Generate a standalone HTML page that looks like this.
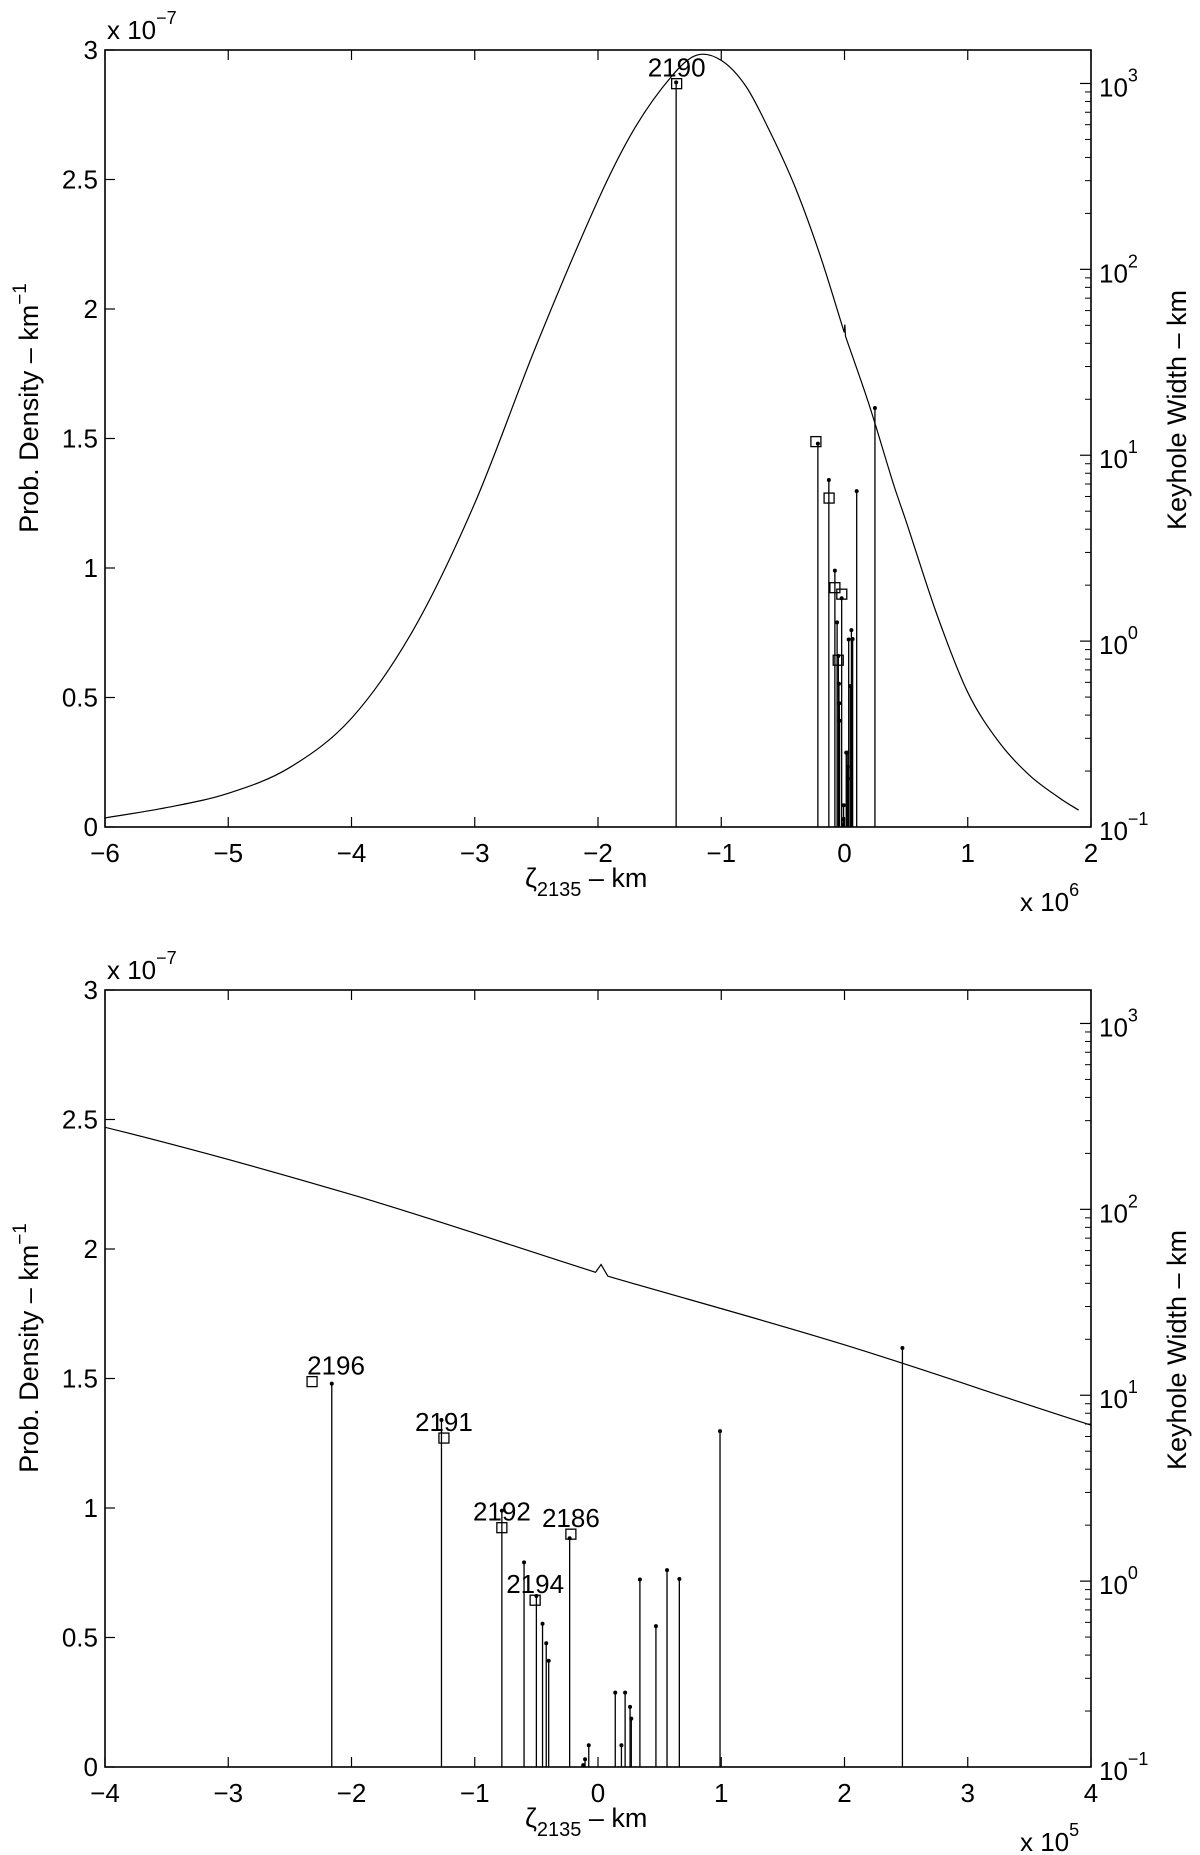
<!DOCTYPE html>
<html><head><meta charset="utf-8">
<style>
html,body{margin:0;padding:0;background:#fff;}
svg{display:block;font-family:"Liberation Sans",Arial,sans-serif;}
text{fill:#000;}
</style></head>
<body>
<svg id="fig" width="1200" height="1855" viewBox="0 0 1200 1855" xmlns="http://www.w3.org/2000/svg"></svg>
<script>
// ---- data (x in units of 1e5 km, probability density in units of 1e-7 km^-1) ----
const curveX = [-60,-55,-50,-45,-40,-35,-30,-25,-20,-17,-14,-12,-10,-8,-6,-4,-2,-0.02,0.025,0.08,2,4,5,7.5,10,12.5,15,17.5,19];
const curveP = [0.035,0.075,0.13,0.23,0.42,0.76,1.25,1.86,2.42,2.70,2.90,2.98,2.96,2.86,2.68,2.47,2.21,1.91,1.94,1.895,1.63,1.32,1.18,0.82,0.52,0.33,0.2,0.11,0.065];
const stemX = [-13.66,-2.16,-1.27,-0.78,-0.60,-0.50,-0.45,-0.42,-0.40,-0.23,-0.12,-0.105,-0.075,0.14,0.19,0.22,0.26,0.27,0.34,0.47,0.56,0.66,0.99,2.47];
const stemP = [2.875,1.48,1.34,0.99,0.79,0.66,0.553,0.478,0.41,0.883,0.007,0.03,0.084,0.287,0.084,0.287,0.232,0.187,0.724,0.544,0.76,0.726,1.297,1.618];
const sqLabels = ['2190','2196','2191','2192','2186','2194'];
const sqX = [-13.62,-2.32,-1.25,-0.78,-0.22,-0.51];
const sqP = [2.87,1.488,1.27,0.924,0.899,0.644];
const sqPanel = ['top','bottom','bottom','bottom','bottom','bottom'];
const yTicks = [0,0.5,1,1.5,2,2.5,3];
const yTickLabels = ['0','0.5','1','1.5','2','2.5','3'];
const topXTicks = [-6,-5,-4,-3,-2,-1,0,1,2];
const botXTicks = [-4,-3,-2,-1,0,1,2,3,4];
const logDecades = [-1,0,1,2,3];
const logMax = 3.18;

const NS='http://www.w3.org/2000/svg';
const svg=document.getElementById('fig');
function mk(tag,attrs,parent){const e=document.createElementNS(NS,tag);for(const k in attrs)e.setAttribute(k,attrs[k]);(parent||svg).appendChild(e);return e;}

// smooth path; tiny "glitch" points (closely spaced in x) are joined with straight lines
function smoothPath(pts,xs){
  const n=pts.length;
  const glitch=[];
  for(let i=0;i<n;i++){glitch[i]=i>0&&i<n-1&&(xs[i]-xs[i-1])<0.1&&(xs[i+1]-xs[i])<0.1;}
  const t=[];
  for(let i=0;i<n;i++){
    let a=i-1,b=i+1;
    if(a>=0&&glitch[a])a--;
    if(b<n&&glitch[b])b++;
    a=Math.max(a,0);b=Math.min(b,n-1);
    if(a===i)a=i; if(b===i)b=i;
    const lo=a===i?i:a,hi=b===i?i:b;
    t[i]=(pts[hi][1]-pts[lo][1])/((pts[hi][0]-pts[lo][0])||1);
  }
  let d='M'+pts[0][0].toFixed(2)+' '+pts[0][1].toFixed(2);
  for(let i=0;i<n-1;i++){
    if(glitch[i]||glitch[i+1]||(pts[i+1][0]-pts[i][0])<3){d+='L'+pts[i+1][0].toFixed(2)+' '+pts[i+1][1].toFixed(2);continue;}
    const h=(pts[i+1][0]-pts[i][0])/3;
    d+='C'+(pts[i][0]+h).toFixed(2)+' '+(pts[i][1]+t[i]*h).toFixed(2)+' '+(pts[i+1][0]-h).toFixed(2)+' '+(pts[i+1][1]-t[i+1]*h).toFixed(2)+' '+pts[i+1][0].toFixed(2)+' '+pts[i+1][1].toFixed(2);
  }
  return d;
}

function panel(name,T,xmin,xmax,scaleUnit,xExp){
  const L=105,R=1091,B=T+777;
  const g=mk('g',{});
  
  
  const sx=v=>L+(v*scaleUnit-xmin)/(xmax-xmin)*(R-L);
  const sy=p=>B-p/3*(B-T);
  const ly=e=>B-(e+1)*(B-T)/(logMax+1);
  const cid='clip-'+name;
  const cp=mk('clipPath',{id:cid},g);mk('rect',{x:L,y:T,width:R-L,height:B-T},cp);
  const plot=mk('g',{'clip-path':'url(#'+cid+')'},g);
  const pts=curveX.map((x,i)=>[sx(x),sy(curveP[i])]);
  const c=mk('path',{d:smoothPath(pts,curveX),fill:'none',stroke:'#000','stroke-width':1.2},plot);
  
  
  for(let i=0;i<stemX.length;i++){
    const x=sx(stemX[i]),y=sy(stemP[i]);
    const s=mk('line',{x1:x,y1:B,x2:x,y2:y,stroke:'#000','stroke-width':1.3},plot);
    
    
    const dt=mk('circle',{cx:x,cy:y,r:2,fill:'#000'},plot);
    
    
  }
  for(let i=0;i<sqX.length;i++){
    const x=sx(sqX[i]),y=sy(sqP[i]);
    if(x<L-5||x>R+5)continue;
    const r=mk('rect',{x:x-5,y:y-5,width:10,height:10,fill:'none',stroke:'#000','stroke-width':1.3},plot);
    
    
    if(sqPanel[i]===name){
      const dx=sqLabels[i]==='2196'?24:0;
      const t=mk('text',{x:x+dx,y:y-7,'font-size':26,'text-anchor':'middle'},g);
      t.textContent=sqLabels[i];
      
      
    }
  }
  const box=mk('rect',{x:L,y:T,width:R-L,height:B-T,fill:'none',stroke:'#000','stroke-width':1.6},g);
  
  
  const ticks=name==='top'?topXTicks:botXTicks;
  ticks.forEach(v=>{
    const x=L+(v-xmin)/(xmax-xmin)*(R-L);
    mk('line',{x1:x,y1:B,x2:x,y2:B-10,stroke:'#000','stroke-width':1.2},g);
    mk('line',{x1:x,y1:T,x2:x,y2:T+10,stroke:'#000','stroke-width':1.2},g);
    const t=mk('text',{x:x,y:B+35,'font-size':26,'text-anchor':'middle'},g);
    t.textContent=(v<0?'\u2212':'')+Math.abs(v);
    
    
  });
  yTicks.forEach((v,i)=>{
    const y=sy(v);
    mk('line',{x1:L,y1:y,x2:L+10,y2:y,stroke:'#000','stroke-width':1.2},g);
    const t=mk('text',{x:98,y:y+9,'font-size':26,'text-anchor':'end'},g);
    t.textContent=yTickLabels[i];
    
    
  });
  logDecades.forEach(e=>{
    const y=ly(e);
    mk('line',{x1:R,y1:y,x2:R-11,y2:y,stroke:'#000','stroke-width':1.2},g);
    const t=mk('text',{x:1099,y:y+13,'font-size':26},g);
    t.textContent='10';
    const sup=mk('tspan',{dy:-15,'font-size':18},t);
    sup.textContent=e<0?'\u2212'+(-e):String(e);
    
    
    for(let m=2;m<=9;m++){
      const le=e+Math.log10(m);
      if(le>logMax)break;
      const ym=ly(le);
      mk('line',{x1:R,y1:ym,x2:R-6,y2:ym,stroke:'#000','stroke-width':1},g);
    }
  });
  const m1=mk('text',{x:107,y:T-11,'font-size':26},g);
  m1.textContent='x 10';
  const s1=mk('tspan',{dy:-15,'font-size':18},m1);s1.textContent='\u22127';
  
  
  const m2=mk('text',{x:1020,y:B+84,'font-size':26},g);
  m2.textContent='x 10';
  const s2=mk('tspan',{dy:-15,'font-size':18},m2);s2.textContent=xExp;
  
  
  const xl=mk('text',{x:525,y:B+60,'font-size':27},g);
  xl.textContent='\u03B6';
  const sb=mk('tspan',{dy:9,'font-size':20},xl);sb.textContent='2135';
  const rest=mk('tspan',{dy:-9},xl);rest.textContent=' \u2013 km';
  
  
  const yc=T+358;
  const yl=mk('text',{x:0,y:0,'font-size':27,'text-anchor':'middle',transform:'translate(38,'+yc+') rotate(-90)'},g);
  yl.textContent='Prob. Density \u2013 km';
  const ys=mk('tspan',{dy:-12,'font-size':19},yl);ys.textContent='\u22121';
  
  
  const rl=mk('text',{x:0,y:0,'font-size':27,'text-anchor':'middle',transform:'translate(1186,'+(T+360)+') rotate(-90)'},g);
  rl.textContent='Keyhole Width \u2013 km';
  
  
}
panel('top',50,-6,2,0.1,'6');
panel('bottom',990,-4,4,1,'5');
</script>
</body></html>
